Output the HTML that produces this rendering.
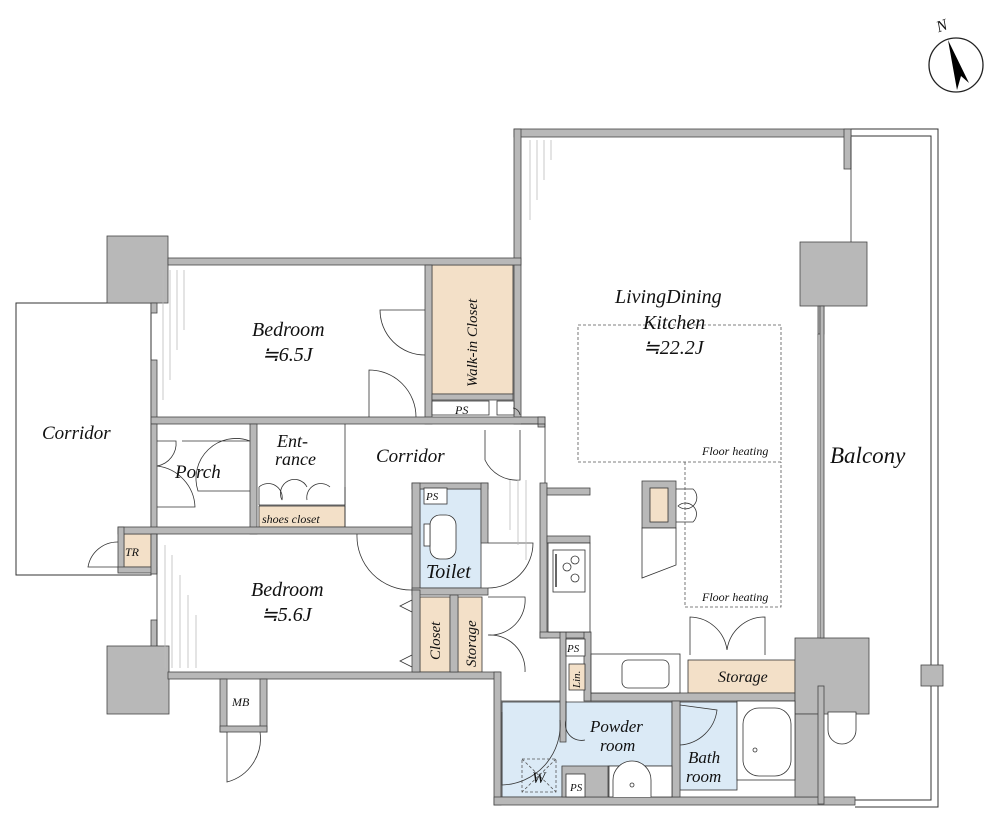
<!DOCTYPE html>
<html><head><meta charset="utf-8"><style>
html,body{margin:0;padding:0;background:#fff;}
svg{display:block;}
text{font-family:"Liberation Serif",serif;font-style:italic;fill:#111;}
</style></head><body>
<svg width="1000" height="823" viewBox="0 0 1000 823" xmlns="http://www.w3.org/2000/svg">
<circle cx="956" cy="65" r="27" fill="none" stroke="#222" stroke-width="1.3"/>
<polygon points="948,40 969,83 961,76 957,90" fill="#000"/>
<text x="936" y="30" font-size="16" font-style="normal" transform="rotate(-20 944 24)">N</text>

<rect x="16" y="303" width="135" height="272" fill="#fff" stroke="#333"/>
<g fill="none" stroke="#333" stroke-width="1">
<polyline points="851,129 938,129 938,665"/>
<polyline points="851,136 931,136 931,665"/>
<polyline points="931,686 931,800 855,800"/>
<polyline points="938,686 938,807 855,807"/>
</g>

<g stroke="#333" stroke-width="0.8">
<rect x="432" y="265" width="81" height="129" fill="#f3e0c8"/>
<rect x="259" y="506" width="86" height="21" fill="#f3e0c8"/>
<rect x="124" y="534" width="27" height="33" fill="#f3e0c8"/>
<rect x="420" y="597" width="30" height="75" fill="#f3e0c8"/>
<rect x="458" y="597" width="24" height="75" fill="#f3e0c8"/>
<rect x="688" y="660" width="107" height="33" fill="#f3e0c8"/>
<rect x="420" y="489" width="61" height="99" fill="#dbeaf6"/>
<path d="M502,702 H672 V766 H608 V797 H562 V766 H562 V797 H502 Z" fill="#dbeaf6"/>
<rect x="680" y="702" width="57" height="88" fill="#dbeaf6"/>
</g>

<g fill="#b8b8b8" stroke="#444" stroke-width="0.8">
<rect x="514" y="129" width="337" height="8"/>
<rect x="514" y="129" width="7" height="295"/>
<rect x="844" y="129" width="7" height="40"/>
<rect x="800" y="242" width="67" height="64"/>
<rect x="818" y="306" width="6" height="28"/>
<rect x="107" y="236" width="61" height="67"/>
<rect x="168" y="258" width="353" height="7"/>
<rect x="151" y="303" width="6" height="10"/>
<rect x="151" y="360" width="6" height="64"/>
<rect x="425" y="265" width="7" height="159"/>
<rect x="432" y="394" width="81" height="6"/>
<rect x="151" y="417" width="394" height="7"/>
<rect x="538" y="417" width="7" height="10"/>
<rect x="250" y="424" width="7" height="110"/>
<rect x="151" y="424" width="6" height="110"/>
<rect x="118" y="527" width="297" height="7"/>
<rect x="118" y="527" width="6" height="45"/>
<rect x="118" y="567" width="39" height="6"/>
<rect x="151" y="534" width="6" height="40"/>
<rect x="151" y="620" width="6" height="30"/>
<rect x="107" y="646" width="62" height="68"/>
<rect x="168" y="672" width="332" height="7"/>
<rect x="220" y="679" width="7" height="53"/>
<rect x="260" y="679" width="7" height="53"/>
<rect x="220" y="726" width="47" height="6"/>
<rect x="412" y="483" width="76" height="6"/>
<rect x="412" y="483" width="8" height="109"/>
<rect x="481" y="483" width="7" height="60"/>
<rect x="412" y="588" width="76" height="7"/>
<rect x="412" y="590" width="8" height="82"/>
<rect x="450" y="595" width="8" height="77"/>
<rect x="540" y="483" width="7" height="155"/>
<rect x="547" y="488" width="43" height="7"/>
<rect x="547" y="536" width="43" height="7"/>
<rect x="540" y="632" width="50" height="6"/>
<rect x="584" y="632" width="7" height="69"/>
<rect x="560" y="632" width="6" height="110"/>
<rect x="494" y="672" width="7" height="133"/>
<rect x="494" y="797" width="361" height="8"/>
<rect x="591" y="693" width="204" height="8"/>
<rect x="672" y="701" width="8" height="96"/>
<rect x="795" y="638" width="74" height="76"/>
<rect x="795" y="714" width="27" height="83"/>
<rect x="818" y="686" width="6" height="118"/>
<rect x="921" y="665" width="22" height="21"/>
<rect x="642" y="481" width="34" height="47"/>
<rect x="562" y="766" width="46" height="31"/>
<rect x="820" y="306" width="4" height="332"/>
</g>

<g fill="#fff" stroke="#333" stroke-width="0.8">
<rect x="650" y="488" width="18" height="34" fill="#f3e0c8"/>
<path d="M642,528 H676 V565 L642,578 Z"/>
<rect x="566" y="774" width="19" height="23"/>
<rect x="424" y="488" width="23" height="16"/>
<rect x="432" y="401" width="57" height="14"/>
<rect x="497" y="401" width="17" height="14"/>
<rect x="566" y="639" width="19" height="17"/>
<rect x="569" y="664" width="16" height="26" fill="#f3e0c8"/>
<rect x="548" y="543" width="42" height="89"/>
<rect x="553" y="550" width="32" height="42"/>
<rect x="591" y="654" width="89" height="39"/>
<rect x="622" y="660" width="47" height="28" rx="6"/>
<rect x="737" y="701" width="58" height="79"/>
<rect x="743" y="708" width="48" height="68" rx="16"/>
<rect x="609" y="766" width="63" height="31"/>
<path d="M613,797 V780 A19,19 0 0 1 651,780 V797"/>
<path d="M828,712 H856 V730 A14,14 0 0 1 828,730 Z"/>
<rect x="430" y="515" width="26" height="44" rx="10"/>
<rect x="424" y="524" width="6" height="22"/>
</g>
<g fill="none" stroke="#333" stroke-width="0.8">
<circle cx="567" cy="567" r="4"/><circle cx="575" cy="560" r="4"/><circle cx="575" cy="578" r="4"/>
<line x1="556" y1="554" x2="556" y2="587" stroke-width="1.5"/>
<circle cx="755" cy="750" r="2"/><circle cx="632" cy="785" r="2"/>
<path d="M425,310 H380 A45,45 0 0 0 425,355"/>
<path d="M369,417 V370 A47,47 0 0 1 416,417"/>
<path d="M485,430 V460 A35,35 0 0 0 520,480 V430"/>
<path d="M157,441 H176 A23,23 0 0 1 157,466"/>
<path d="M157,466 A43,43 0 0 1 195,507 H157"/>
<path d="M182,441 H250 A40,40 0 0 0 198,491 H250"/>
<path d="M259,487 A14,14 0 0 1 282,500 M282,500 A14,14 0 0 1 307,487 M307,500 A14,14 0 0 1 330,487 M259,487 V505 M345,487 V505 M259,505 H345"/>
<path d="M357,534 A54,54 0 0 0 412,590"/>
<path d="M488,543 H533 A45,45 0 0 1 488,588"/>
<path d="M488,597 H525 A35,35 0 0 1 488,635 A35,35 0 0 1 525,672"/>
<path d="M412,600 L400,606 L412,612 M412,655 L400,661 L412,667"/>
<path d="M118,542 A30,30 0 0 0 88,567 H118"/>
<path d="M227,732 V782 A45,45 0 0 0 260,732"/>
<path d="M502,712 V785 A60,60 0 0 0 560,720"/>
<path d="M566,701 V720 A16,16 0 0 0 585,740"/>
<path d="M680,705 L717,710 A40,40 0 0 1 680,745"/>
<path d="M690,655 V617 A38,38 0 0 1 727,650 A38,38 0 0 1 765,617 V655"/>
<path d="M676,489 H693 A10,10 0 0 1 678,506 A10,10 0 0 1 693,522 H676"/>
<path d="M513,408 A8,8 0 0 1 520,415"/>
<path d="M521,424 H545 V483 M345,424 V527"/>
<path d="M851,137 V242 M818,334 V638"/>
<path d="M501,701 H560"/>
<path d="M157,534 V646"/>
</g>
<g fill="none" stroke="#555" stroke-dasharray="3,2" stroke-width="0.8">
<polyline points="578,325 781,325 781,462 578,462 578,325"/>
<polyline points="685,462 685,607 781,607 781,462"/>
<rect x="522" y="759" width="34" height="33"/>
<path d="M522,759 L556,792 M556,759 L522,792"/>
</g>
<g stroke="#bbb" stroke-width="0.8">
<line x1="530" y1="140" x2="530" y2="220"/><line x1="537" y1="140" x2="537" y2="200"/><line x1="544" y1="140" x2="544" y2="180"/><line x1="551" y1="140" x2="551" y2="160"/>
<line x1="163" y1="270" x2="163" y2="400"/><line x1="170" y1="270" x2="170" y2="380"/><line x1="177" y1="270" x2="177" y2="350"/><line x1="184" y1="270" x2="184" y2="330"/>
<line x1="165" y1="545" x2="165" y2="668"/><line x1="172" y1="555" x2="172" y2="668"/><line x1="180" y1="575" x2="180" y2="668"/><line x1="188" y1="595" x2="188" y2="668"/><line x1="196" y1="615" x2="196" y2="668"/>
<line x1="510" y1="480" x2="510" y2="530"/><line x1="518" y1="480" x2="518" y2="545"/><line x1="526" y1="480" x2="526" y2="560"/>
</g>

<text x="252" y="336" font-size="20">Bedroom</text>
<text x="262" y="361" font-size="20">≒6.5J</text>
<text x="42" y="439" font-size="19">Corridor</text>
<text x="175" y="478" font-size="19">Porch</text>
<text x="277" y="447" font-size="18">Ent-</text>
<text x="275" y="465" font-size="18">rance</text>
<text x="262" y="523" font-size="12">shoes closet</text>
<text x="376" y="462" font-size="19">Corridor</text>
<text x="251" y="596" font-size="20">Bedroom</text>
<text x="261" y="621" font-size="20">≒5.6J</text>
<text x="426" y="578" font-size="20">Toilet</text>
<text x="426" y="500" font-size="11">PS</text>
<text x="455" y="414" font-size="12">PS</text>
<text x="125" y="556" font-size="12">TR</text>
<text x="232" y="706" font-size="12">MB</text>
<text transform="translate(477,387) rotate(-90)" font-size="15">Walk-in Closet</text>
<text transform="translate(440,660) rotate(-90)" font-size="15">Closet</text>
<text transform="translate(476,667) rotate(-90)" font-size="15">Storage</text>
<text transform="translate(580,688) rotate(-90)" font-size="11">Lin.</text>
<text x="567" y="652" font-size="11">PS</text>
<text x="570" y="791" font-size="11">PS</text>
<text x="532" y="783" font-size="16">W</text>
<text x="615" y="303" font-size="20">LivingDining</text>
<text x="643" y="329" font-size="20">Kitchen</text>
<text x="643" y="354" font-size="20">≒22.2J</text>
<text x="702" y="455" font-size="12">Floor heating</text>
<text x="702" y="601" font-size="12">Floor heating</text>
<text x="830" y="463" font-size="23">Balcony</text>
<text x="718" y="682" font-size="16">Storage</text>
<text x="590" y="732" font-size="17">Powder</text>
<text x="600" y="751" font-size="17">room</text>
<text x="688" y="763" font-size="17">Bath</text>
<text x="686" y="782" font-size="17">room</text>
</svg>
</body></html>
